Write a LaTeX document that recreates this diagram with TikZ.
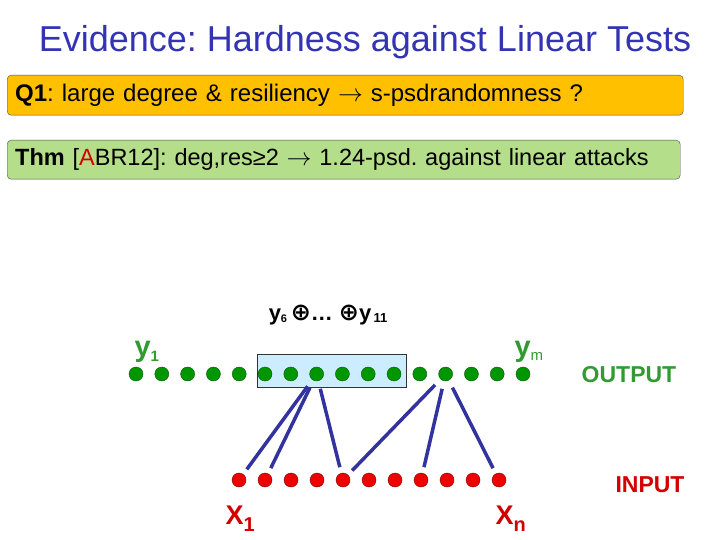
\documentclass[tikz,border=0pt]{standalone}
\usepackage{fontspec}
\setmainfont{Liberation Sans}
\newfontfamily\symfont{DejaVu Sans}
\usetikzlibrary{positioning, calc}
\definecolor{TitleBlue}{RGB}{51, 51, 179}
\definecolor{QOrange}{RGB}{255, 192, 0}
\definecolor{ThmGreen}{RGB}{180, 222, 137}
\definecolor{PaleBlue}{RGB}{204, 236, 255}
\definecolor{DotGreen}{RGB}{0, 150, 0}
\definecolor{DarkGreen}{RGB}{0, 90, 0}
\definecolor{LblGreen}{RGB}{51, 153, 51}
\definecolor{DotRed}{RGB}{240, 0, 0}
\definecolor{DarkRed}{RGB}{120, 0, 0}
\definecolor{LblRed}{RGB}{210, 0, 0}
\definecolor{WireBlue}{RGB}{51, 51, 160}
\frenchspacing

\begin{document}
\begin{tikzpicture}[x=1pt, y=-1pt,
        outdot/.style={circle, draw=DarkGreen, fill=DotGreen, minimum size=14pt, inner sep=0pt},
        indot/.style={circle, draw=DarkRed, fill=DotRed, minimum size=14pt, inner sep=0pt},
        wire/.style={WireBlue, line width=3.5pt, shorten <=8pt, shorten >=6pt},
        stmt/.style={draw=black!70, rounded corners=4pt, anchor=north west, text width=660pt, inner xsep=8pt, minimum height=40pt, align=left, font=\fontsize{24}{27}\selectfont},
        lbl/.style={font=\fontsize{23}{26}\selectfont\bfseries}
    ]
        \useasboundingbox (0,0) rectangle (720,540);

        \node[text=TitleBlue, font=\fontsize{36}{38}\selectfont, anchor=base] (title) at (365,52) {Evidence: Hardness against Linear Tests};

        \node[stmt, fill=QOrange] (q1) at (7,75) {\textbf{Q1}: large degree \& resiliency $\rightarrow$ s-psdrandomness ?};
        \node[stmt, fill=ThmGreen, text width=657pt, minimum height=39pt, font=\fontsize{23.5}{26}\selectfont] (thm) at (7,140) {\textbf{Thm} [\textcolor{LblRed}{A}BR12]: deg,res≥2 $\rightarrow$ 1.24-psd. against linear attacks};

        % selected outputs
        \node[draw=black!80, fill=PaleBlue, minimum width=149pt, minimum height=33pt, inner sep=0pt] (sel) at (331.5,370.5) {};

        \foreach \i in {1,...,16}
            \node[outdot] (o\i) at ({136+25.8*(\i-1)},374) {};
        \foreach \i in {1,...,11}
            \node[indot] (i\i) at ({239+26*(\i-1)},480) {};

        \foreach \j in {1,2,5}
            \draw[wire] (o8) -- (i\j);
        \foreach \j in {5,8,11}
            \draw[wire] (o13) -- (i\j);

        \node[font=\fontsize{22}{24}\selectfont\bfseries] (xor) at (328,315) {y\raisebox{-2pt}{\fontsize{11}{12}\selectfont 6}\,{\symfont\fontsize{24}{26}\selectfont ⊕}\ldots\ {\symfont\fontsize{24}{26}\selectfont ⊕}y\raisebox{-2pt}{\fontsize{13}{14}\selectfont\,11}};
        \node[text=LblGreen, anchor=base west] (y1) at (131,356) {\fontsize{29}{30}\selectfont\bfseries y\raisebox{-5pt}{\fontsize{15}{16}\selectfont 1}};
        \node[text=LblGreen, anchor=base west] (ym) at (511,356) {\fontsize{29}{30}\selectfont\bfseries y\raisebox{-4pt}{\fontsize{15}{16}\selectfont\mdseries m}};
        \node[lbl, text=LblGreen, anchor=base] (outlbl) at (629,382) {OUTPUT};
        \node[lbl, text=LblRed, anchor=base] (inlbl) at (650,492) {INPUT};
        \node[text=LblRed, anchor=base west] (x1) at (222,524) {\fontsize{27}{28}\selectfont\bfseries X\raisebox{-7pt}{\fontsize{20}{21}\selectfont 1}};
        \node[text=LblRed, anchor=base west] (xn) at (492,524) {\fontsize{27}{28}\selectfont\bfseries X\raisebox{-7pt}{\fontsize{20}{21}\selectfont n}};
    \end{tikzpicture}
\end{document}
